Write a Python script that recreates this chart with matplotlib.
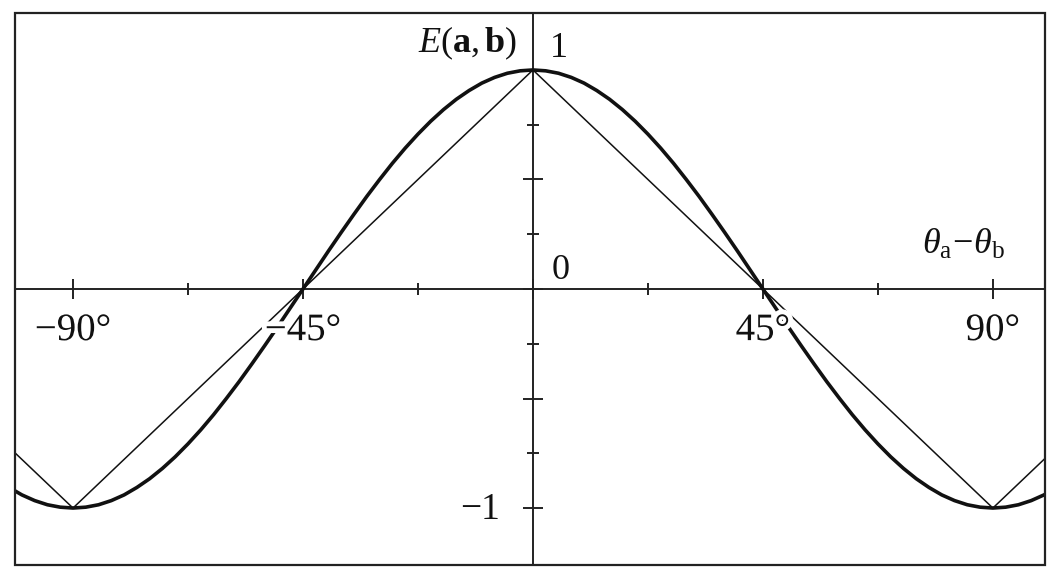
import matplotlib.pyplot as plt
import matplotlib.patheffects as pe
from matplotlib.patches import Rectangle
from matplotlib.ticker import FixedLocator

plt.rcParams['font.family'] = ['Liberation Serif', 'DejaVu Serif']
plt.rcParams['mathtext.fontset'] = 'custom'
plt.rcParams['mathtext.rm'] = 'Liberation Serif'
plt.rcParams['mathtext.it'] = 'Liberation Serif:italic'
plt.rcParams['mathtext.bf'] = 'Liberation Serif:bold'

# quantum correlation E(a,b), every 2.5 degrees (right half, curve is symmetric)
half_angles = [0, 2.5, 5, 7.5, 10, 12.5, 15, 17.5, 20, 22.5, 25, 27.5, 30, 32.5,
               35, 37.5, 40, 42.5, 45, 47.5, 50, 52.5, 55, 57.5, 60, 62.5, 65,
               67.5, 70, 72.5, 75, 77.5, 80, 82.5, 85, 87.5, 90, 92.5, 95,
               97.5, 100, 102.5, 105]
half_e = [1.000, 0.996, 0.985, 0.966, 0.940, 0.906, 0.866, 0.819, 0.766, 0.707,
          0.643, 0.574, 0.500, 0.423, 0.342, 0.259, 0.174, 0.087, 0.000,
          -0.087, -0.174, -0.259, -0.342, -0.423, -0.500, -0.574, -0.643,
          -0.707, -0.766, -0.819, -0.866, -0.906, -0.940, -0.966, -0.985,
          -0.996, -1.000, -0.996, -0.985, -0.966, -0.940, -0.906, -0.866]
angles = [-a for a in half_angles[::-1]] + half_angles[1:]
e_quantum = half_e[::-1] + half_e[1:]

# classical (linear) correlation, thin line corners
lin_angles = [-105, -90, 0, 90, 105]
e_linear = [-0.667, -1.0, 1.0, -1.0, -0.667]

x_major = [-90, -45, 0, 45, 90]
x_minor = [-67.5, -22.5, 22.5, 67.5]
y_major = [-1, -0.5, 0, 0.5, 1]
y_minor = [-0.75, -0.25, 0.25, 0.75]
x_ticklabels = {-90: '\u221290\u00b0', -45: '\u221245\u00b0', 45: '45\u00b0', 90: '90\u00b0'}

fig = plt.figure(figsize=(10.64, 5.88), dpi=100)
ax = fig.add_axes([15 / 1064, 23 / 588, 1030 / 1064, 552 / 588])
ax.set_xlim(-101.35, 100.2)
ax.set_ylim(-1.26, 1.26)

ax.plot(angles, e_quantum, color='#111111', lw=2.6, zorder=3,
        solid_joinstyle='round', solid_capstyle='butt')
ax.plot(lin_angles, e_linear, color='#111111', lw=1.1, zorder=3)

# axes through the origin
for s in ['right', 'top']:
    ax.spines[s].set_visible(False)
ax.spines['left'].set_position(('data', 0))
ax.spines['bottom'].set_position(('data', 0))
for s in ['left', 'bottom']:
    ax.spines[s].set_linewidth(1.4)
    ax.spines[s].set_color('#222222')

ax.xaxis.set_major_locator(FixedLocator(x_major))
ax.xaxis.set_minor_locator(FixedLocator(x_minor))
ax.yaxis.set_major_locator(FixedLocator(y_major))
ax.yaxis.set_minor_locator(FixedLocator(y_minor))
ax.tick_params(which='both', direction='inout', labelbottom=False, labelleft=False,
               color='#222222', width=1.4)
ax.tick_params(which='major', length=14)
ax.tick_params(which='minor', length=8)

# outer frame
ax.add_patch(Rectangle((0, 0), 1, 1, transform=ax.transAxes, fill=False,
                       lw=1.6, edgecolor='#222222', clip_on=False, zorder=5))

halo = [pe.withStroke(linewidth=7, foreground='white')]
for xv, lab in x_ticklabels.items():
    ax.text(xv, -0.19, lab, ha='center', va='center', fontsize=28,
            color='#111111', path_effects=halo, zorder=4)

ax.text(5.0, 1.1, '1', ha='center', va='center', fontsize=26, color='#111111')
ax.text(5.5, 0.085, '0', ha='center', va='center', fontsize=26, color='#111111')
ax.text(-6.5, -1.01, '\u22121', ha='right', va='center', fontsize=27, color='#111111')
ax.text(-3.0, 1.12, r'$E(\mathbf{a},\mathbf{b})$', ha='right', va='center',
        fontsize=26, color='#111111')
ax.text(92.5, 0.2, r'$\theta_{\mathrm{a}}\!-\!\theta_{\mathrm{b}}$', ha='right',
        va='center', fontsize=26, color='#111111')

fig.savefig('out.png', dpi=100, facecolor='white')
